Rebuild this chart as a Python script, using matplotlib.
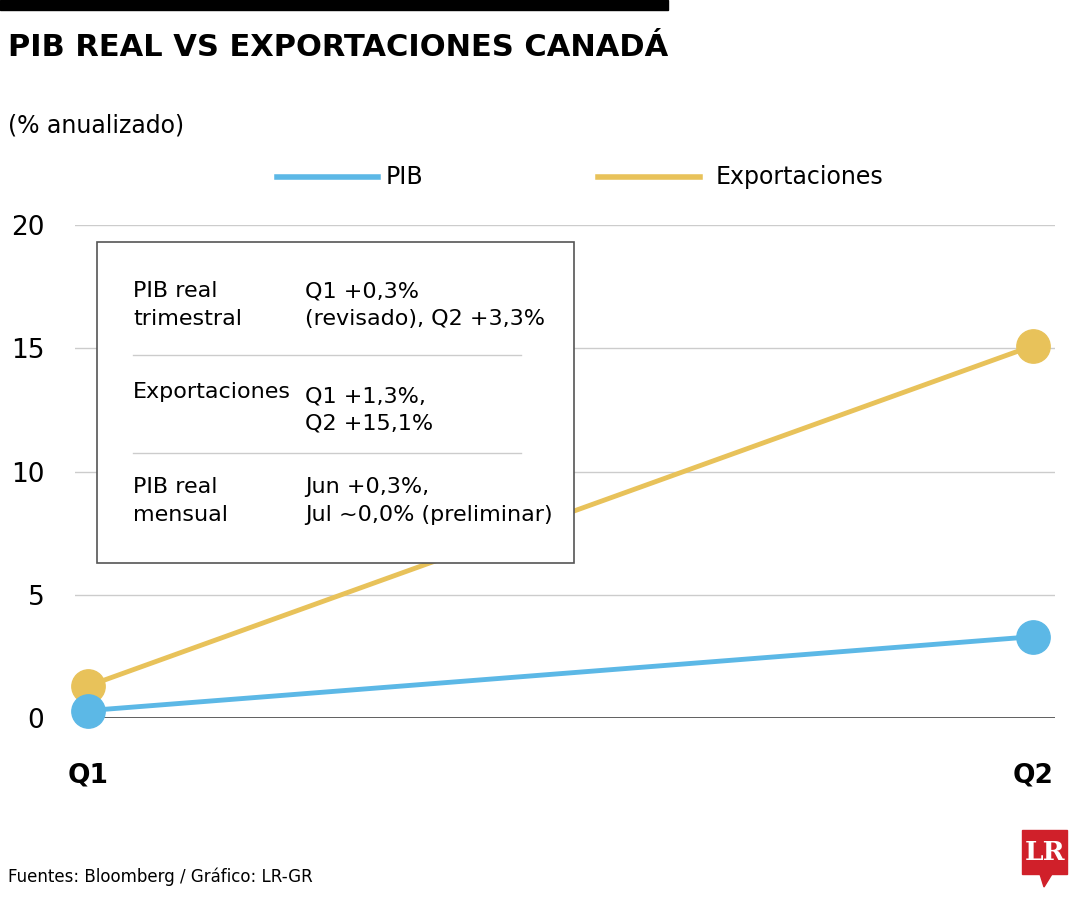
import matplotlib
matplotlib.use('Agg')
import matplotlib.pyplot as plt
from matplotlib.patches import Rectangle, Polygon
from matplotlib.lines import Line2D

plt.rcParams['font.family'] = ['Liberation Sans Narrow', 'DejaVu Sans Condensed', 'DejaVu Sans']

quarters = ['Q1', 'Q2']
pib = [0.3, 3.3]
exportaciones = [1.3, 15.1]
yticks = [0, 5, 10, 15, 20]

blue = '#5cb8e6'
gold = '#e8c25a'

W, H = 1080, 900
def fx(x): return x / W
def fy(y): return 1 - y / H

fig = plt.figure(figsize=(10.8, 9), dpi=100)
ax = fig.add_axes([fx(75), fy(718), (1055 - 75) / W, (718 - 225) / H])
xs = list(range(len(quarters)))
ax.set_xlim(-13 / 945, 1 + 22 / 945)
ax.set_ylim(0, 20)
for t in yticks[1:]:
    ax.axhline(t, color='#cccccc', lw=1, zorder=0)
ax.axhline(0, color='#444444', lw=1.2, zorder=0)
ax.plot(xs, exportaciones, color=gold, lw=3.5, marker='o', ms=24, clip_on=False, zorder=3)
ax.plot(xs, pib, color=blue, lw=3.5, marker='o', ms=24, clip_on=False, zorder=3)
for s in ax.spines.values():
    s.set_visible(False)
ax.set_yticks(yticks)
ax.set_yticklabels([str(t) for t in yticks], fontsize=19)
ax.tick_params(axis='y', length=0, pad=22)
ax.set_xticks(xs)
ax.set_xticklabels(quarters, fontsize=19, fontweight='bold')
ax.tick_params(axis='x', length=0, pad=32)

# header
fig.patches.append(Rectangle((0, fy(10)), fx(668), 10 / H, color='black', transform=fig.transFigure))
fig.text(fx(8), fy(47), 'PIB REAL VS EXPORTACIONES CANADÁ', fontsize=22, fontweight='bold', va='center')
fig.text(fx(8), fy(125), '(% anualizado)', fontsize=17, va='center')

# legend
fig.lines.append(Line2D([fx(277), fx(378)], [fy(177)] * 2, color=blue, lw=4, transform=fig.transFigure))
fig.text(fx(386), fy(177), 'PIB', fontsize=17, va='center')
fig.lines.append(Line2D([fx(598), fx(700)], [fy(177)] * 2, color=gold, lw=4, transform=fig.transFigure))
fig.text(fx(716), fy(177), 'Exportaciones', fontsize=17, va='center')

# info box
fig.patches.append(Rectangle((fx(97), fy(563)), (574 - 97) / W, (563 - 242) / H, facecolor='white',
                             edgecolor='#555555', lw=1.2, transform=fig.transFigure, zorder=5))
rows = [
    ('PIB real\ntrimestral', 'Q1 +0,3%\n(revisado), Q2 +3,3%', 305),
    ('Exportaciones', 'Q1 +1,3%,\nQ2 +15,1%', 410),
    ('PIB real\nmensual', 'Jun +0,3%,\nJul ~0,0% (preliminar)', 501),
]
for c1, c2, yc in rows:
    ty = yc if '\n' in c1 else 392
    fig.text(fx(133), fy(ty), c1, fontsize=16, va='center', linespacing=1.45, zorder=6)
    fig.text(fx(305), fy(yc), c2, fontsize=16, va='center', linespacing=1.45, zorder=6)
for yl in (355, 453):
    fig.lines.append(Line2D([fx(133), fx(521)], [fy(yl)] * 2, color='#cccccc', lw=1,
                            transform=fig.transFigure, zorder=6))

# footer
fig.text(fx(8), fy(877), 'Fuentes: Bloomberg / Gráfico: LR-GR', fontsize=12, va='center')
fig.patches.append(Rectangle((fx(1022), fy(874)), 45 / W, 44 / H, color='#d0202a', transform=fig.transFigure))
fig.patches.append(Polygon([(fx(1040), fy(874)), (fx(1052), fy(874)), (fx(1044), fy(887))], closed=True,
                           color='#d0202a', transform=fig.transFigure))
fig.text(fx(1044.5), fy(852), 'LR', fontsize=19, fontweight='bold', color='white', ha='center', va='center',
         family='DejaVu Serif')

fig.savefig('out.png', dpi=100)
